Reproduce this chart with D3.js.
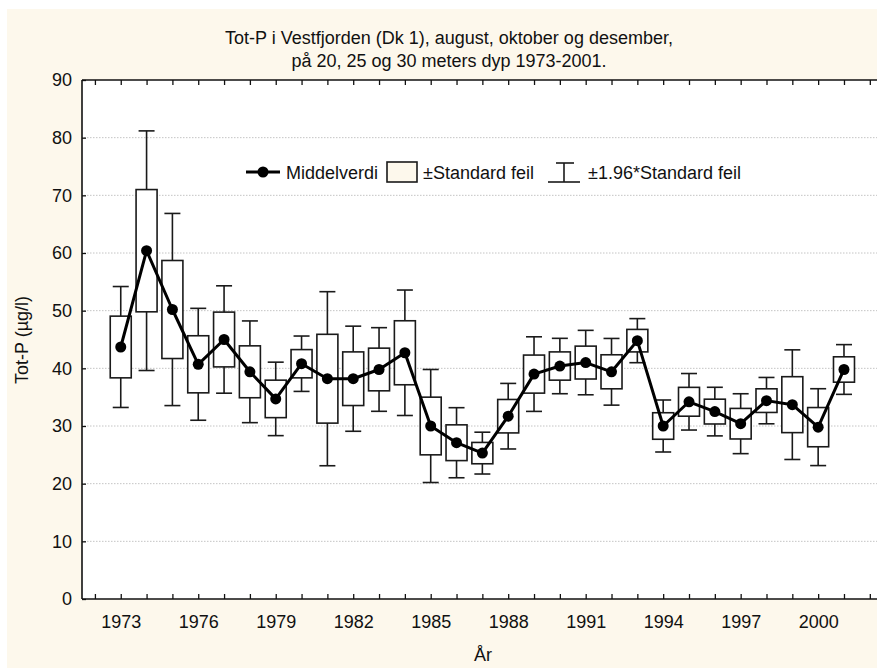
<!DOCTYPE html>
<html>
<head>
<meta charset="utf-8">
<script src="https://cdn.jsdelivr.net/npm/d3@7"></script>
<style>
  body { margin: 0; background: #fff; }
  svg text { font-family: "Liberation Sans", Arial, sans-serif; fill: #111; }
</style>
</head>
<body>
<svg id="svg" width="877" height="668"></svg>
<script>
// Tot-P, middelverdi og standard feil per år
const years = d3.range(1973, 2002)
const meanValues = [43.7, 60.4, 50.2, 40.7, 45.0, 39.4, 34.7, 40.8, 38.2, 38.2,
  39.8, 42.7, 30.0, 27.1, 25.3, 31.7, 39.0, 40.4, 41.0, 39.4,
  44.8, 30.0, 34.2, 32.5, 30.4, 34.4, 33.7, 29.8, 39.8]
const stdErr = [5.35, 10.6, 8.5, 4.95, 4.75, 4.5, 3.25, 2.45, 7.7, 4.65,
  3.7, 5.55, 5.0, 3.1, 1.85, 2.9, 3.3, 2.45, 2.85, 2.95,
  1.95, 2.3, 2.5, 2.15, 2.65, 2.05, 4.85, 3.4, 2.2]
const yTicks = d3.range(0, 91, 10)
const yearLabels = [1973, 1976, 1979, 1982, 1985, 1988, 1991, 1994, 1997, 2000]

const titleLines = ["Tot-P i Vestfjorden (Dk 1), august, oktober og desember,",
  "på 20, 25 og 30 meters dyp 1973-2001."]

const data = years.map((yr, i) => ({year: yr, mean: meanValues[i], se: stdErr[i]}))

const svg = d3.select("#svg")
const width = 877, height = 668
const cream = "#fdf8ec"

svg.append("rect").attr("x", 7).attr("y", 9)
  .attr("width", width - 7).attr("height", height - 9).attr("fill", cream)

const plotLeft = 82, plotTop = 80, plotBottom = 599
const x = d3.scaleLinear().domain([1971.5, 2003.5]).range([plotLeft, plotLeft + 32 * 25.83])
const y = d3.scaleLinear().domain([0, 90]).range([plotBottom, plotTop])

svg.append("rect").attr("x", plotLeft).attr("y", plotTop)
  .attr("width", width - plotLeft).attr("height", plotBottom - plotTop).attr("fill", "#fff")

// gridlines
svg.append("g")
  .selectAll("line")
  .data(yTicks.filter(d => d > 0 && d < 90))
  .join("line")
    .attr("x1", plotLeft + 2).attr("x2", width)
    .attr("y1", d => y(d)).attr("y2", d => y(d))
    .attr("stroke", "#c4c4c4").attr("stroke-width", 1)
    .attr("stroke-dasharray", "1.5,1.5")

// axes
const allYears = d3.range(1972, 2004)
const xAxis = svg.append("g").attr("transform", `translate(0,${plotBottom})`)
  .call(d3.axisBottom(x).tickValues(allYears).tickSize(-5).tickPadding(16)
    .tickFormat(d => yearLabels.includes(d) ? d : ""))
const xTop = svg.append("g").attr("transform", `translate(0,${plotTop})`)
  .call(d3.axisTop(x).tickValues(allYears).tickSize(-5).tickFormat(""))
const yAxis = svg.append("g").attr("transform", `translate(${plotLeft},0)`)
  .call(d3.axisLeft(y).tickValues(yTicks).tickSize(-4).tickPadding(10))

for (const ax of [xAxis, xTop, yAxis]) {
  ax.select(".domain").remove()
  ax.selectAll("line").attr("stroke", "#111").attr("stroke-width", 1.3)
  ax.selectAll("text").attr("font-size", 18).attr("font-family", null).attr("fill", "#111")
}

svg.append("line").attr("x1", plotLeft).attr("x2", plotLeft).attr("y1", plotTop).attr("y2", plotBottom)
  .attr("stroke", "#111").attr("stroke-width", 1.6)
svg.append("line").attr("x1", plotLeft).attr("x2", width).attr("y1", plotBottom).attr("y2", plotBottom)
  .attr("stroke", "#111").attr("stroke-width", 1.6)
svg.append("line").attr("x1", plotLeft).attr("x2", width).attr("y1", plotTop).attr("y2", plotTop)
  .attr("stroke", "#111").attr("stroke-width", 1.6)

// whiskers
const boxW = 21, capW = 16
const marks = svg.append("g").attr("stroke", "#1a1a1a").attr("stroke-width", 1.6)
marks.selectAll(".whisker")
  .data(data)
  .join("line")
    .attr("class", "whisker")
    .attr("x1", d => x(d.year)).attr("x2", d => x(d.year))
    .attr("y1", d => y(d.mean + 1.96 * d.se)).attr("y2", d => y(d.mean - 1.96 * d.se))
marks.selectAll(".capTop")
  .data(data)
  .join("line")
    .attr("class", "capTop")
    .attr("x1", d => x(d.year) - capW / 2).attr("x2", d => x(d.year) + capW / 2)
    .attr("y1", d => y(d.mean + 1.96 * d.se)).attr("y2", d => y(d.mean + 1.96 * d.se))
marks.selectAll(".capBot")
  .data(data)
  .join("line")
    .attr("class", "capBot")
    .attr("x1", d => x(d.year) - capW / 2).attr("x2", d => x(d.year) + capW / 2)
    .attr("y1", d => y(d.mean - 1.96 * d.se)).attr("y2", d => y(d.mean - 1.96 * d.se))
marks.selectAll("rect")
  .data(data)
  .join("rect")
    .attr("x", d => x(d.year) - boxW / 2)
    .attr("y", d => y(d.mean + d.se))
    .attr("width", boxW)
    .attr("height", d => y(d.mean - d.se) - y(d.mean + d.se))
    .attr("fill", "#fff")

// mean line
const line = d3.line().x(d => x(d.year)).y(d => y(d.mean))
svg.append("path").datum(data)
  .attr("d", line).attr("fill", "none")
  .attr("stroke", "#000").attr("stroke-width", 3).attr("stroke-linejoin", "round")
svg.append("g").selectAll("circle")
  .data(data)
  .join("circle")
    .attr("cx", d => x(d.year)).attr("cy", d => y(d.mean)).attr("r", 5.5)
    .attr("fill", "#000")

// legend
const lg = svg.append("g").attr("font-size", 18)
const ly = 172
lg.append("line").attr("x1", 246).attr("x2", 280).attr("y1", ly).attr("y2", ly)
  .attr("stroke", "#000").attr("stroke-width", 3)
lg.append("circle").attr("cx", 263).attr("cy", ly).attr("r", 5.5).attr("fill", "#000")
lg.append("text").attr("x", 286).attr("y", ly + 6.5).text("Middelverdi")
lg.append("rect").attr("x", 387).attr("y", ly - 10).attr("width", 30).attr("height", 20)
  .attr("fill", cream).attr("stroke", "#1a1a1a").attr("stroke-width", 1.6)
lg.append("text").attr("x", 423).attr("y", ly + 6.5).text("±Standard feil")
const wg = lg.append("g").attr("stroke", "#1a1a1a").attr("stroke-width", 1.6)
wg.append("line").attr("x1", 556).attr("x2", 574).attr("y1", ly - 9).attr("y2", ly - 9)
wg.append("line").attr("x1", 564).attr("x2", 564).attr("y1", ly - 9).attr("y2", ly + 10)
wg.append("line").attr("x1", 548).attr("x2", 580).attr("y1", ly + 10).attr("y2", ly + 10)
lg.append("text").attr("x", 588).attr("y", ly + 6.5).text("±1.96*Standard feil")

// titles
svg.append("g").selectAll("text")
  .data(titleLines)
  .join("text")
    .attr("x", 449).attr("y", (d, i) => 44 + i * 23)
    .attr("text-anchor", "middle").attr("font-size", 18)
    .text(d => d)

svg.append("text")
  .attr("transform", "translate(28,340) rotate(-90)")
  .attr("text-anchor", "middle").attr("font-size", 18)
  .text("Tot-P (µg/l)")

svg.append("text")
  .attr("x", 483).attr("y", 661)
  .attr("text-anchor", "middle").attr("font-size", 18)
  .text("År")
</script>
</body>
</html>
